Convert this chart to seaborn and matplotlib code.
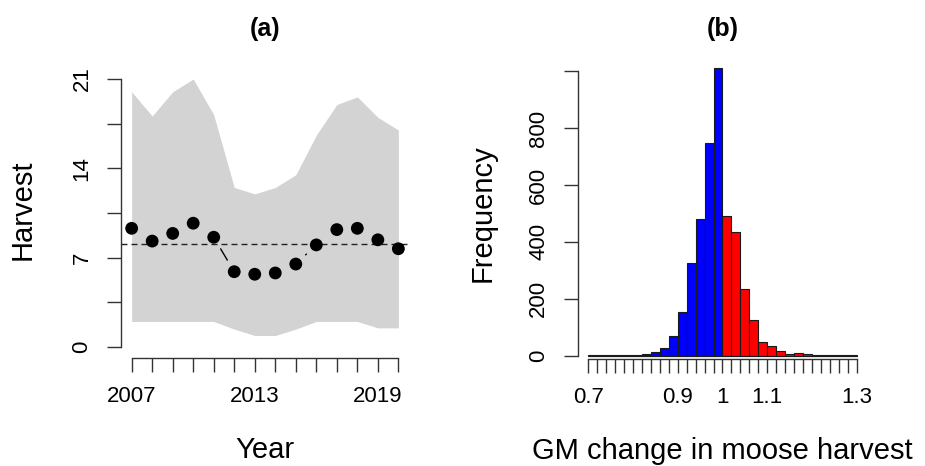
import numpy as np
import pandas as pd
import matplotlib
matplotlib.use("Agg")
import matplotlib.pyplot as plt
import seaborn as sns

# --- data ---
years = [2007, 2008, 2009, 2010, 2011, 2012, 2013, 2014, 2015, 2016, 2017, 2018, 2019, 2020]
harvest = [9.3, 8.3, 8.9, 9.7, 8.6, 5.9, 5.7, 5.8, 6.5, 8.0, 9.2, 9.3, 8.4, 7.7]
band_upper = [20.0, 18.1, 20.0, 21.0, 18.2, 12.5, 12.0, 12.5, 13.5, 16.6, 19.0, 19.6, 18.0, 17.0]
band_lower = [2.0, 2.0, 2.0, 2.0, 2.0, 1.4, 0.9, 0.9, 1.4, 2.0, 2.0, 2.0, 1.5, 1.5]
mean_harvest = 8.05
year_labels = {2007: "2007", 2013: "2013", 2019: "2019"}
harvest_ticks = [0, 3.5, 7, 10.5, 14, 17.5, 21]
harvest_labels = ["0", "", "7", "", "14", "", "21"]

bin_edges = [round(0.70 + 0.02 * i, 2) for i in range(31)]
bin_counts = [1, 1, 1, 1, 3, 1, 7, 13, 28, 69, 152, 327, 480, 749, 1010,
              492, 436, 235, 124, 48, 34, 16, 6, 9, 6, 2, 2, 2, 1, 3]
gm_ticks = [0.7, 0.9, 1.0, 1.1, 1.3]
gm_tick_labels = ["0.7", "0.9", "1", "1.1", "1.3"]
freq_ticks = [0, 200, 400, 600, 800, 1000]
freq_labels = ["0", "200", "400", "600", "800", ""]

# --- style ---
sns.set_style("ticks")
plt.rcParams["font.family"] = ["Liberation Sans", "DejaVu Sans"]
plt.rcParams["text.color"] = "black"
plt.rcParams["axes.labelcolor"] = "black"
plt.rcParams["xtick.color"] = "black"
plt.rcParams["ytick.color"] = "black"
axis_col = "#333333"
label_size = 21

fig = plt.figure(figsize=(9.25, 4.66), dpi=100)
ax1 = fig.add_axes([0.1308, 0.2324, 0.3114, 0.6210])
ax2 = fig.add_axes([0.6244, 0.2296, 0.3133, 0.6485])

# ---------- panel (a) ----------
ax1.set_xlim(2006.48, 2020.52)
ax1.set_ylim(-0.84, 21.84)
ax1.fill_between(years, band_lower, band_upper, color="#D3D3D3", linewidth=0)
ax1.axhline(mean_harvest, color="#222222", lw=1.0, ls=(0, (4.3, 2.9)))

# type="b" style: connecting segments with gaps around the points
gap = 13.5
disp = ax1.transData.transform(np.column_stack([years, harvest]))
inv = ax1.transData.inverted()
for p, q in zip(disp[:-1], disp[1:]):
    d = q - p
    length = np.hypot(*d)
    if length > 2 * gap:
        u = d / length
        seg = inv.transform(np.vstack([p + u * gap, q - u * gap]))
        ax1.plot(seg[:, 0], seg[:, 1], color="black", lw=1.0)

df_h = pd.DataFrame({"Year": years, "Harvest": harvest})
sns.scatterplot(data=df_h, x="Year", y="Harvest", ax=ax1, color="black",
                s=85, edgecolor="none", zorder=5)

ax1.set_xticks(years)
ax1.set_xticklabels([year_labels.get(y, "") for y in years])
ax1.set_yticks(harvest_ticks)
ax1.set_yticklabels(harvest_labels, rotation=90, va="center")
ax1.spines["left"].set_bounds(0, 21)
ax1.spines["bottom"].set_bounds(2007, 2020)

ax1.set_xlabel("Year", fontsize=label_size)
ax1.set_ylabel("Harvest", fontsize=label_size)
ax1.xaxis.set_label_coords(0.5, -0.319)
ax1.xaxis.label.set_va("center")
ax1.yaxis.set_label_coords(-0.340, 0.510)
ax1.yaxis.label.set_va("center")
ax1.set_title("(a)", fontsize=18, fontweight="bold", y=1.136, va="center", pad=0,
              family=["Liberation Sans Narrow", "Liberation Sans", "DejaVu Sans"])

# ---------- panel (b) ----------
centers = [(a + b) / 2 for a, b in zip(bin_edges[:-1], bin_edges[1:])]
df_b = pd.DataFrame({"gm": centers, "count": bin_counts})
df_b["side"] = np.where(df_b["gm"] < 1.0, "down", "up")
sns.histplot(data=df_b, x="gm", weights="count", hue="side", bins=bin_edges,
             palette={"down": "#0000FF", "up": "#FF0000"}, alpha=1,
             edgecolor="#1a1a1a", linewidth=0.8, legend=False, ax=ax2)
ax2.set_xlim(0.676, 1.324)
ax2.set_ylim(-11.6, 1050.6)

ax2.set_xticks(bin_edges, minor=True)
ax2.set_xticks(gm_ticks)
ax2.set_xticklabels(gm_tick_labels)
ax2.set_yticks(freq_ticks)
ax2.set_yticklabels(freq_labels, rotation=90, va="center")
ax2.spines["left"].set_bounds(0, 1000)
ax2.spines["bottom"].set_bounds(0.7, 1.3)

ax2.set_xlabel("GM change in moose harvest", fontsize=label_size)
ax2.set_ylabel("Frequency", fontsize=label_size)
ax2.xaxis.set_label_coords(0.5, -0.3044)
ax2.xaxis.label.set_va("center")
ax2.yaxis.set_label_coords(-0.3264, 0.483)
ax2.yaxis.label.set_va("center")
ax2.set_title("(b)", fontsize=18, fontweight="bold", y=1.092, va="center", pad=0,
              family=["Liberation Sans Narrow", "Liberation Sans", "DejaVu Sans"])

for ax in (ax1, ax2):
    for side in ("top", "right"):
        ax.spines[side].set_visible(False)
    for side in ("left", "bottom"):
        ax.spines[side].set_color(axis_col)
        ax.spines[side].set_linewidth(1.0)
    ax.tick_params(which="both", length=10, width=1.0, color=axis_col,
                   labelcolor="black", labelsize=16, pad=10.5, direction="out",
                   bottom=True, left=True)
    ax.tick_params(axis="x", which="minor", length=10)

fig.savefig("out.png", dpi=100)
